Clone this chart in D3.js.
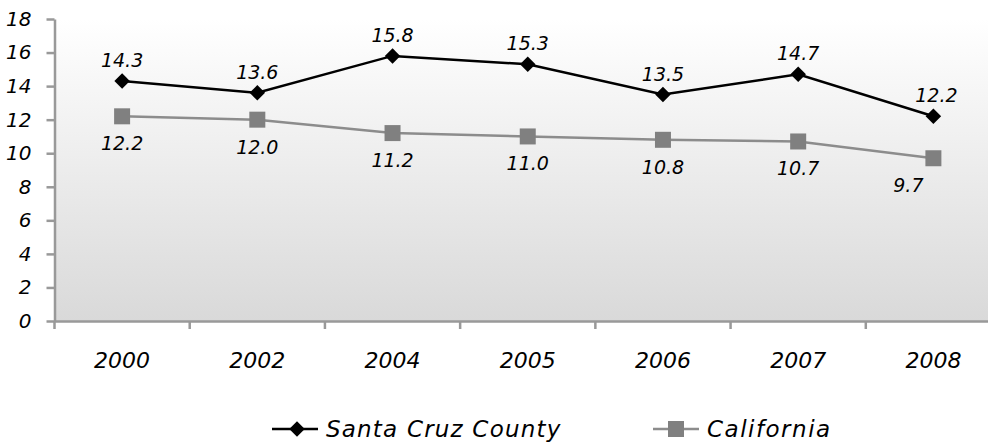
<!DOCTYPE html>
<html><head><meta charset="utf-8">
<script src="https://cdn.jsdelivr.net/npm/d3@7"></script>
<style>
html,body{margin:0;padding:0;background:#fff;}
svg{display:block;}
text{font-family:"DejaVu Sans",sans-serif;font-style:italic;fill:#000;}
</style></head>
<body>
<script>
const years = ["2000","2002","2004","2005","2006","2007","2008"];
const santaCruz = [14.3,13.6,15.8,15.3,13.5,14.7,12.2];
const california = [12.2,12.0,11.2,11.0,10.8,10.7,9.7];
const yTicks = [0,2,4,6,8,10,12,14,16,18];
const seriesNames = ["Santa Cruz County","California"];

const W=988,H=444;
const FONT='"DejaVu Sans",sans-serif';
const svg=d3.select("body").append("svg").attr("width",W).attr("height",H);
const pL=54.5, pR=1001, pT=19, pB=321;
const x=d3.scaleBand().domain(years).range([pL,pR]);
const y=d3.scaleLinear().domain([0,18]).range([pB,pT]);

const defs=svg.append("defs");
const g=defs.append("linearGradient").attr("id","bg").attr("x1",0).attr("y1",0).attr("x2",0).attr("y2",1);
g.append("stop").attr("offset","0%").attr("stop-color","#ffffff");
g.append("stop").attr("offset","100%").attr("stop-color","#d9d9d9");
svg.append("rect").attr("x",pL).attr("y",pT).attr("width",pR-pL).attr("height",pB-pT).attr("fill","url(#bg)");

// y axis
const ya=svg.append("g").attr("transform",`translate(${pL},0)`)
  .call(d3.axisLeft(y).tickValues(yTicks).tickSize(8).tickPadding(15).tickSizeOuter(0));
ya.select(".domain").attr("stroke","#999").attr("stroke-width",2.5);
ya.selectAll(".tick line").attr("stroke","#999").attr("stroke-width",2.5);
ya.selectAll(".tick text").attr("font-size",20).style("font-family",FONT).style("font-style","italic").attr("fill","#000");

// x axis
const xa=svg.append("g").attr("transform",`translate(0,${pB})`)
  .call(d3.axisBottom(x).tickSize(0).tickPadding(31));
xa.select(".domain").attr("stroke","#999").attr("stroke-width",2.5);
xa.selectAll(".tick text").attr("font-size",22).style("font-family",FONT).style("font-style","italic").attr("fill","#000");
// x tick marks at band boundaries
svg.append("g").selectAll("line").data(years).join("line")
  .attr("x1",d=>x(d)).attr("x2",d=>x(d)).attr("y1",pB).attr("y2",pB+8)
  .attr("stroke","#999").attr("stroke-width",2.5);

const cx=d=>x(d)+x.bandwidth()/2;
const line=d3.line().x((v,i)=>cx(years[i])).y(v=>y(v));

// California
svg.append("path").datum(california).attr("d",line).attr("fill","none").attr("stroke","#8c8c8c").attr("stroke-width",2.5);
svg.append("g").selectAll("rect").data(california).join("rect")
  .attr("x",(v,i)=>cx(years[i])-8).attr("y",v=>y(v)-8).attr("width",16).attr("height",16).attr("fill","#808080");
svg.append("g").selectAll("text").data(california).join("text")
  .attr("x",(v,i)=>cx(years[i])-(i===6?25:0)).attr("y",v=>y(v)+34)
  .attr("text-anchor","middle").attr("font-size",19).text(v=>v.toFixed(1));

// Santa Cruz
svg.append("path").datum(santaCruz).attr("d",line).attr("fill","none").attr("stroke","#000").attr("stroke-width",2.5);
svg.append("g").selectAll("path").data(santaCruz).join("path")
  .attr("d",d3.symbol().type(d3.symbolSquare).size(120))
  .attr("transform",(v,i)=>`translate(${cx(years[i])},${y(v)}) rotate(45)`).attr("fill","#000");
svg.append("g").selectAll("text").data(santaCruz).join("text")
  .attr("x",(v,i)=>cx(years[i])+(i===6?3:0)).attr("y",v=>y(v)-14)
  .attr("text-anchor","middle").attr("font-size",19).text(v=>v.toFixed(1));

// legend
const lg=svg.append("g");
lg.append("line").attr("x1",272).attr("x2",318).attr("y1",429).attr("y2",429).attr("stroke","#000").attr("stroke-width",2.5);
lg.append("path").attr("d",d3.symbol().type(d3.symbolSquare).size(120)()).attr("transform","translate(297,429) rotate(45)").attr("fill","#000");
lg.append("text").attr("x",326).attr("y",437).attr("font-size",23).attr("letter-spacing",1.2).text(seriesNames[0]);
lg.append("line").attr("x1",653).attr("x2",699).attr("y1",429).attr("y2",429).attr("stroke","#8c8c8c").attr("stroke-width",2.5);
lg.append("rect").attr("x",668).attr("y",421).attr("width",16).attr("height",16).attr("fill","#808080");
lg.append("text").attr("x",707).attr("y",437).attr("font-size",23).attr("letter-spacing",1.5).text(seriesNames[1]);
</script>
</body></html>
